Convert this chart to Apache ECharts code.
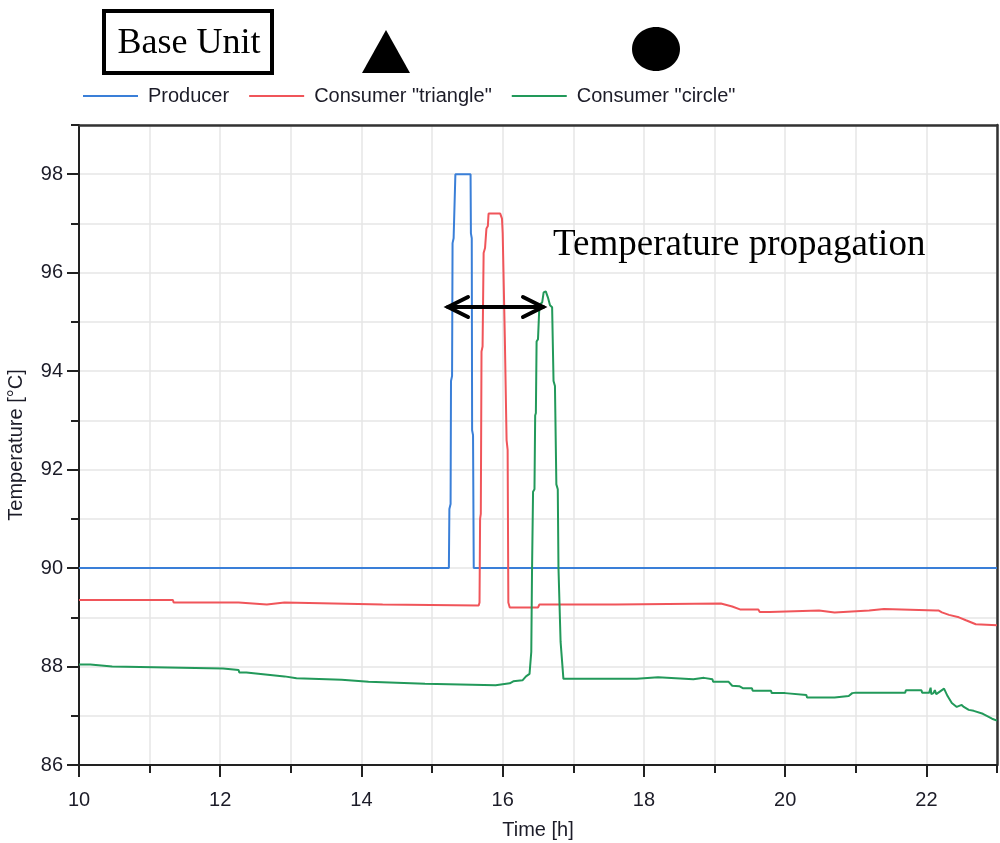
<!DOCTYPE html>
<html>
<head>
<meta charset="utf-8">
<script src="https://cdn.jsdelivr.net/npm/echarts@6/dist/echarts.min.js"></script>
<style>
html,body{margin:0;padding:0;background:#fff;}
#chart{width:1000px;height:843px;}
</style>
</head>
<body>
<div id="chart"></div>
<script>
// ---- data (time [h], temperature [°C]) ----
const seriesNames = ['Producer', 'Consumer "triangle"', 'Consumer "circle"'];
const xTickLabels = [10, 12, 14, 16, 18, 20, 22];
const yTickLabels = [86, 88, 90, 92, 94, 96, 98];

const producer = [
  [10, 90], [15.238, 90], [15.245, 91.2], [15.262, 91.3], [15.268, 93.8], [15.283, 93.9],
  [15.29, 96.6], [15.305, 96.7], [15.33, 98], [15.545, 98], [15.55, 96.8], [15.562, 96.7],
  [15.567, 92.8], [15.58, 92.7], [15.59, 90], [23, 90]
];

const consumerTriangle = [
  [10, 89.35], [11.33, 89.35], [11.34, 89.30], [12.26, 89.30], [12.27, 89.26], [12.66, 89.26],
  [12.67, 89.30], [12.91, 89.30], [12.92, 89.26], [14.3, 89.26], [14.32, 89.23], [15.66, 89.24],
  [15.672, 89.3], [15.68, 91.0], [15.69, 91.1], [15.70, 94.4], [15.715, 94.5], [15.73, 96.4],
  [15.75, 96.5], [15.77, 96.9], [15.79, 96.95], [15.80, 97.2], [15.965, 97.2], [15.99, 97.1],
  [16.0, 96.8], [16.03, 94.7], [16.055, 92.6], [16.07, 92.4], [16.08, 89.3], [16.1, 89.2],
  [16.5, 89.2], [16.52, 89.26], [17.6, 89.26], [17.62, 89.28], [19.09, 89.28], [19.25, 89.22],
  [19.36, 89.16], [19.62, 89.16], [19.64, 89.11], [19.78, 89.11], [19.8, 89.14], [20.48, 89.14],
  [20.5, 89.10], [20.7, 89.10], [20.72, 89.14], [21.19, 89.14], [21.2, 89.17], [21.4, 89.17],
  [21.42, 89.14], [22.14, 89.14], [22.15, 89.18], [22.17, 89.14], [22.22, 89.1], [22.32, 89.05],
  [22.46, 89.0], [22.56, 88.94], [22.7, 88.86], [23, 88.84]
];

const consumerCircle = [
  [10, 88.04], [10.16, 88.04], [10.17, 88.0], [10.47, 88.0], [10.48, 87.96], [12.04, 87.96],
  [12.05, 87.93], [12.26, 87.93], [12.27, 87.88], [12.37, 87.88], [12.38, 87.84], [12.64, 87.84],
  [12.65, 87.80], [12.91, 87.80], [12.92, 87.76], [13.08, 87.76], [13.09, 87.73], [13.72, 87.73],
  [13.73, 87.69], [14.1, 87.69], [14.12, 87.65], [14.9, 87.65], [14.92, 87.62], [15.9, 87.62],
  [15.92, 87.65], [16.1, 87.66], [16.15, 87.7], [16.28, 87.72], [16.33, 87.8], [16.38, 87.85],
  [16.405, 88.3], [16.415, 89.9], [16.43, 91.55], [16.45, 91.6], [16.46, 93.1], [16.47, 93.15],
  [16.48, 94.6], [16.5, 94.65], [16.52, 95.34], [16.56, 95.4], [16.58, 95.6], [16.61, 95.62],
  [16.64, 95.5], [16.67, 95.34], [16.7, 95.3], [16.72, 93.8], [16.74, 93.7], [16.76, 91.7],
  [16.78, 91.6], [16.79, 90], [16.82, 88.5], [16.86, 87.75], [17.9, 87.75], [17.92, 87.78],
  [18.2, 87.78], [18.22, 87.75], [18.7, 87.74], [18.71, 87.77], [18.85, 87.77], [18.86, 87.74],
  [18.97, 87.74], [18.98, 87.69], [19.2, 87.69], [19.25, 87.61], [19.35, 87.60], [19.4, 87.56],
  [19.53, 87.56], [19.54, 87.51], [19.8, 87.51], [19.81, 87.46], [20.0, 87.46], [20.01, 87.42],
  [20.3, 87.42], [20.31, 87.37], [20.7, 87.37], [20.71, 87.40], [20.9, 87.40], [20.95, 87.46],
  [21.0, 87.47], [21.7, 87.47], [21.71, 87.52], [21.93, 87.52], [21.94, 87.47], [22.04, 87.47],
  [22.06, 87.57], [22.07, 87.44], [22.1, 87.46], [22.12, 87.52], [22.14, 87.44], [22.2, 87.5],
  [22.25, 87.55], [22.3, 87.4], [22.36, 87.26], [22.43, 87.18], [22.5, 87.22], [22.53, 87.18],
  [22.6, 87.12], [22.67, 87.1], [22.8, 87.04], [22.93, 86.94], [23, 86.9]
];

const colors = ['#3a7fd8', '#f0555a', '#22995a'];

const chart = echarts.init(document.getElementById('chart'), null, {renderer: 'canvas'});
const textColor = '#1c1c28';
const gridColor = '#e6e6e6';
const sans = 'Liberation Sans, Arial, sans-serif';
const serif = 'Liberation Serif, Times New Roman, serif';
const fs = 20;

function labelFmt(list) {
  return function (v) { return list.indexOf(Math.round(v)) >= 0 && Math.abs(v - Math.round(v)) < 1e-6 ? String(Math.round(v)) : ''; };
}

const option = {
  backgroundColor: '#fff',
  animation: false,
  grid: {left: 79, right: 3, top: 125, bottom: 78, containLabel: false, outerBoundsMode: 'none'},
  legend: {
    left: 78, top: 81,
    icon: 'rect',
    itemWidth: 55, itemHeight: 2, itemGap: 20,
    data: seriesNames,
    textStyle: {fontFamily: sans, fontSize: fs, color: textColor, padding: [0, 0, 0, 5]}
  },
  xAxis: [
    { // minor grid / ticks
      type: 'value', min: 10, max: 23, interval: 1, position: 'bottom',
      axisLine: {show: false, onZero: false},
      axisTick: {show: true, length: 8, lineStyle: {color: '#222', width: 2}},
      axisLabel: {show: false},
      splitLine: {show: true, lineStyle: {color: gridColor, width: 1.5}}
    },
    { // main axis
      type: 'value', min: 10, max: 23, interval: 2, position: 'bottom',
      axisLine: {show: true, onZero: false, lineStyle: {color: '#222', width: 2}},
      axisTick: {show: true, length: 12, lineStyle: {color: '#222', width: 2}},
      axisLabel: {show: true, showMaxLabel: false, margin: 25, fontFamily: sans, fontSize: fs, color: textColor, formatter: labelFmt(xTickLabels)},
      splitLine: {show: false},
      name: 'Time [h]', nameLocation: 'middle', nameGap: 55,
      nameTextStyle: {fontFamily: sans, fontSize: fs, color: textColor}
    },
    { // top border
      type: 'value', min: 10, max: 23, interval: 1, position: 'top',
      axisLine: {show: true, onZero: false, lineStyle: {color: '#333', width: 2.5}},
      axisTick: {show: false}, axisLabel: {show: false}, splitLine: {show: false}
    }
  ],
  yAxis: [
    {
      type: 'value', min: 86, max: 99, interval: 1, position: 'left',
      axisLine: {show: false, onZero: false},
      axisTick: {show: true, length: 8, lineStyle: {color: '#222', width: 2}},
      axisLabel: {show: false},
      splitLine: {show: true, lineStyle: {color: gridColor, width: 1.5}}
    },
    {
      type: 'value', min: 86, max: 99, interval: 2, position: 'left',
      axisLine: {show: true, onZero: false, lineStyle: {color: '#222', width: 2}},
      axisTick: {show: true, length: 12, lineStyle: {color: '#222', width: 2}},
      axisLabel: {show: true, showMaxLabel: false, margin: 16, fontFamily: sans, fontSize: fs, color: textColor, formatter: labelFmt(yTickLabels)},
      splitLine: {show: false},
      name: 'Temperature [°C]', nameLocation: 'middle', nameGap: 53, nameRotate: 90,
      nameTextStyle: {fontFamily: sans, fontSize: fs, color: textColor}
    },
    {
      type: 'value', min: 86, max: 99, interval: 1, position: 'right',
      axisLine: {show: true, onZero: false, lineStyle: {color: '#333', width: 2.5}},
      axisTick: {show: false}, axisLabel: {show: false}, splitLine: {show: false}
    }
  ],
  series: [
    {name: seriesNames[0], type: 'line', data: producer},
    {name: seriesNames[1], type: 'line', data: consumerTriangle},
    {name: seriesNames[2], type: 'line', data: consumerCircle}
  ].map(function (s, i) {
    return Object.assign(s, {
      xAxisIndex: 1, yAxisIndex: 1, showSymbol: false, symbol: 'none',
      color: colors[i], itemStyle: {color: colors[i]}, lineStyle: {color: colors[i], width: 2}, z: 3
    });
  }),
  graphic: [
    {type: 'rect', shape: {x: 104, y: 11, width: 168, height: 62}, style: {fill: '#fff', stroke: '#000', lineWidth: 4}, z: 10},
    {type: 'text', x: 189, y: 44, style: {text: 'Base Unit', font: '36px ' + serif, fill: '#000', align: 'center', verticalAlign: 'middle'}, z: 11},
    {type: 'polygon', shape: {points: [[386, 30], [362, 73], [410, 73]]}, style: {fill: '#000'}, z: 10},
    {type: 'ellipse', shape: {cx: 656, cy: 49, rx: 24, ry: 22}, style: {fill: '#000'}, z: 10},
    {type: 'text', x: 553, y: 245, style: {text: 'Temperature propagation', font: '37px ' + serif, fill: '#000', align: 'left', verticalAlign: 'middle'}, z: 11},
    {type: 'polyline', shape: {points: [[448, 307], [543, 307]]}, style: {stroke: '#000', lineWidth: 4, lineCap: 'round'}, z: 12},
    {type: 'polyline', shape: {points: [[468, 297], [448, 307], [468, 317]]}, style: {stroke: '#000', lineWidth: 4, lineCap: 'round', lineJoin: 'miter', fill: null}, z: 12},
    {type: 'polyline', shape: {points: [[523, 297], [543, 307], [523, 317]]}, style: {stroke: '#000', lineWidth: 4, lineCap: 'round', lineJoin: 'miter', fill: null}, z: 12}
  ]
};
chart.setOption(option);
</script>
</body>
</html>
